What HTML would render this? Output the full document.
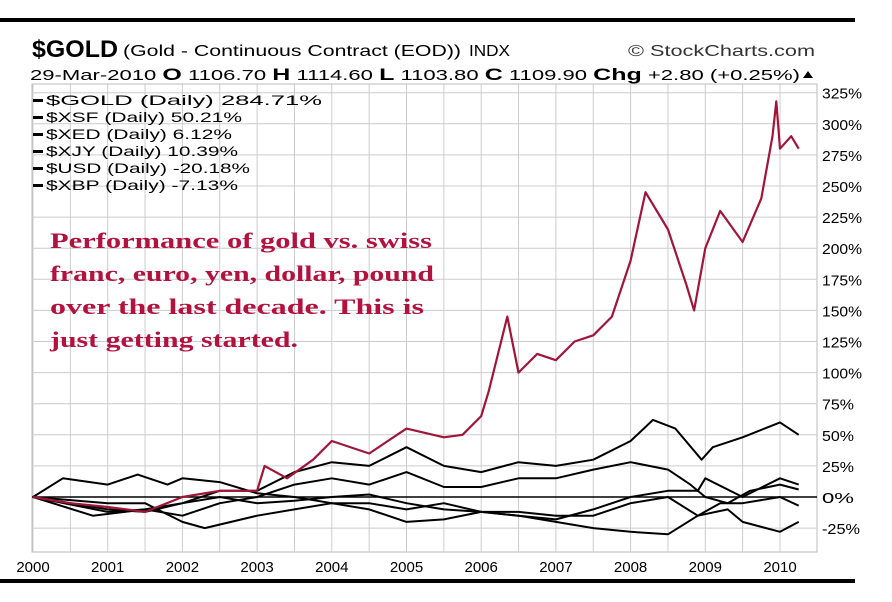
<!DOCTYPE html>
<html><head><meta charset="utf-8"><style>
body{margin:0;background:#fff;}
svg{display:block;font-family:"Liberation Sans",sans-serif;}
</style></head><body>
<svg id="chart" width="892" height="602" viewBox="0 0 892 602">
<rect x="0" y="18" width="855" height="4" fill="#000"/>
<rect x="0" y="579" width="855" height="4" fill="#000"/>
<g>
<text x="32" y="57" font-size="24" font-weight="bold" textLength="86" lengthAdjust="spacingAndGlyphs">$GOLD</text>
<text x="123" y="56" font-size="16" textLength="338" lengthAdjust="spacingAndGlyphs">(Gold - Continuous Contract (EOD))</text>
<text x="469" y="56" font-size="16" textLength="41" lengthAdjust="spacingAndGlyphs">INDX</text>
<text x="628" y="56" font-size="16" fill="#333" textLength="187" lengthAdjust="spacingAndGlyphs">© StockCharts.com</text>
</g>
<g>
<text x="30" y="80" font-size="15" textLength="770" lengthAdjust="spacingAndGlyphs">29-Mar-2010  <tspan font-weight="bold" font-size="17">O</tspan> 1106.70  <tspan font-weight="bold" font-size="17">H</tspan> 1114.60  <tspan font-weight="bold" font-size="17">L</tspan> 1103.80  <tspan font-weight="bold" font-size="17">C</tspan> 1109.90  <tspan font-weight="bold" font-size="17">Chg</tspan> +2.80 (+0.25%)</text>
<path d="M803 78 L813 78 L808 71 Z" fill="#000"/>
</g>
<g id="grid"></g>
<g id="series"></g>
<g id="axes"></g>
<g font-size="14">
<g><rect x="33" y="99" width="10" height="3"/><text x="46" y="105" textLength="276" lengthAdjust="spacingAndGlyphs">$GOLD (Daily) 284.71%</text></g>
<g><rect x="33" y="116" width="10" height="3"/><text x="46" y="122" textLength="196" lengthAdjust="spacingAndGlyphs">$XSF (Daily) 50.21%</text></g>
<g><rect x="33" y="133" width="10" height="3"/><text x="46" y="139" textLength="186" lengthAdjust="spacingAndGlyphs">$XED (Daily) 6.12%</text></g>
<g><rect x="33" y="150" width="10" height="3"/><text x="46" y="156" textLength="192" lengthAdjust="spacingAndGlyphs">$XJY (Daily) 10.39%</text></g>
<g><rect x="33" y="167" width="10" height="3"/><text x="46" y="173" textLength="204" lengthAdjust="spacingAndGlyphs">$USD (Daily) -20.18%</text></g>
<g><rect x="33" y="184" width="10" height="3"/><text x="46" y="190" textLength="192" lengthAdjust="spacingAndGlyphs">$XBP (Daily) -7.13%</text></g>
</g>
<g font-family="'Liberation Serif',serif" font-weight="bold" font-size="22" fill="#b3123f">
<text x="50" y="248" textLength="382" lengthAdjust="spacingAndGlyphs">Performance of gold vs. swiss</text>
<text x="50" y="281" textLength="384" lengthAdjust="spacingAndGlyphs">franc, euro, yen, dollar, pound</text>
<text x="50" y="314" textLength="374" lengthAdjust="spacingAndGlyphs">over the last decade.  This is</text>
<text x="50" y="347" textLength="248" lengthAdjust="spacingAndGlyphs">just getting started.</text>
</g>
</svg>
<script>
const yTicks = [325,300,275,250,225,200,175,150,125,100,75,50,25,0,-25];
const yearLabels = ["2000","2001","2002","2003","2004","2005","2006","2007","2008","2009","2010"];
const goldX = [2000,2000.5,2001,2001.5,2002,2002.5,2003,2003.1,2003.4,2003.75,2004,2004.5,2004.75,2005,2005.5,2005.75,2006,2006.1,2006.35,2006.5,2006.75,2007,2007.25,2007.5,2007.75,2008,2008.2,2008.5,2008.75,2008.85,2009,2009.2,2009.5,2009.75,2009.9,2009.95,2010,2010.15,2010.25];
const goldY = [0,-5,-8,-12,0,5,5,25,15,30,45,35,45,55,48,50,65,85,145,100,115,110,125,130,145,190,245,215,170,150,200,230,205,240,290,318,280,290,280];
const xsfX = [2000,2001,2001.5,2002,2002.5,2003,2003.5,2004,2004.5,2005,2005.5,2006,2006.5,2007,2007.5,2008,2008.3,2008.6,2008.95,2009.1,2009.5,2010,2010.25];
const xsfY = [0,-10,-12,-5,5,5,20,28,25,40,25,20,28,25,30,45,62,55,30,40,48,60,50];
const xedX = [2000,2000.8,2001.5,2002,2002.5,2003,2003.5,2004,2004.5,2005,2005.5,2006,2006.5,2007,2007.5,2008,2008.5,2008.8,2009,2009.3,2009.6,2010,2010.25];
const xedY = [0,-15,-10,-15,-5,0,10,15,10,20,8,8,15,15,22,28,22,10,0,-5,5,10,6];
const xjyX = [2000,2000.4,2001,2001.4,2001.8,2002,2002.5,2003,2003.5,2004,2004.5,2005,2005.5,2006,2006.5,2007,2007.5,2008,2008.5,2008.9,2009,2009.5,2010,2010.25];
const xjyY = [0,15,10,18,10,15,12,3,0,-5,-10,-20,-18,-12,-15,-18,-10,0,5,5,15,0,15,10];
const usdX = [2000,2001,2001.5,2002,2002.3,2003,2003.5,2004,2004.5,2005,2005.5,2006,2006.5,2007,2007.5,2008,2008.5,2008.9,2009.3,2009.5,2010,2010.25];
const usdY = [0,-5,-5,-20,-25,-15,-10,-5,-5,-10,-5,-12,-15,-20,-25,-28,-30,-15,-10,-20,-28,-20];
const xbpX = [2000,2001,2001.5,2002,2002.5,2003,2003.5,2004,2004.5,2005,2005.5,2006,2006.5,2007,2007.5,2008,2008.5,2008.9,2009.2,2009.5,2010,2010.25];
const xbpY = [0,-12,-10,-5,0,-5,-3,0,2,-5,-10,-12,-12,-15,-15,-5,0,-15,-5,-5,0,-7];

const NS="http://www.w3.org/2000/svg";
const L=32,R=817,T=84,B=552;
function sx(yr){return 33+(yr-2000)*74.7;}
function sy(v){return 497-v*1.244;}
function mk(tag,attrs,parent){const e=document.createElementNS(NS,tag);for(const k in attrs)e.setAttribute(k,attrs[k]);parent.appendChild(e);return e;}
const grid=document.getElementById('grid'),axes=document.getElementById('axes'),ser=document.getElementById('series');
mk('rect',{x:L,y:T,width:R-L,height:B-T,fill:'none',stroke:'#bbb'},grid);
for(let h=2000;h<=2010.3;h+=0.5){
  const x=sx(h);
  const g=mk('line',{x1:x,x2:x,y1:T,y2:B,stroke:'#ccc','stroke-width':1},grid);
  
  
}
yTicks.forEach(v=>{
  const y=sy(v);
  const g=mk('line',{x1:L,x2:R,y1:y,y2:y,stroke:'#ccc','stroke-width':1},grid);
  
  
  const t=mk('text',{x:822,y:y+6,'font-size':15,textLength:v<0?38:(Math.abs(v)>=100?40:32),lengthAdjust:'spacingAndGlyphs'},axes);
  t.textContent=v+'%';
  
  
});
yearLabels.forEach((lab,i)=>{
  const t=mk('text',{x:sx(2000+i),y:572,'font-size':15,'text-anchor':'middle'},axes);
  t.textContent=lab;
  
  
});
const zl=mk('line',{x1:L,x2:R,y1:sy(0),y2:sy(0),stroke:'#000','stroke-width':1.5},ser);


function draw(xs,ys,color,name,w){
  const d=xs.map((x,i)=>(i?'L':'M')+sx(x).toFixed(1)+' '+sy(ys[i]).toFixed(1)).join(' ');
  const p=mk('path',{d:d,fill:'none',stroke:color,'stroke-width':w,'stroke-linejoin':'round'},ser);
  
  
}
draw(xsfX,xsfY,'#000','xsf-line',2);
draw(xedX,xedY,'#000','xed-line',2);
draw(xjyX,xjyY,'#000','xjy-line',2);
draw(usdX,usdY,'#000','usd-line',2);
draw(xbpX,xbpY,'#000','xbp-line',2);
draw(goldX,goldY,'#a0153a','gold-line',2.2);
</script>
</body></html>
